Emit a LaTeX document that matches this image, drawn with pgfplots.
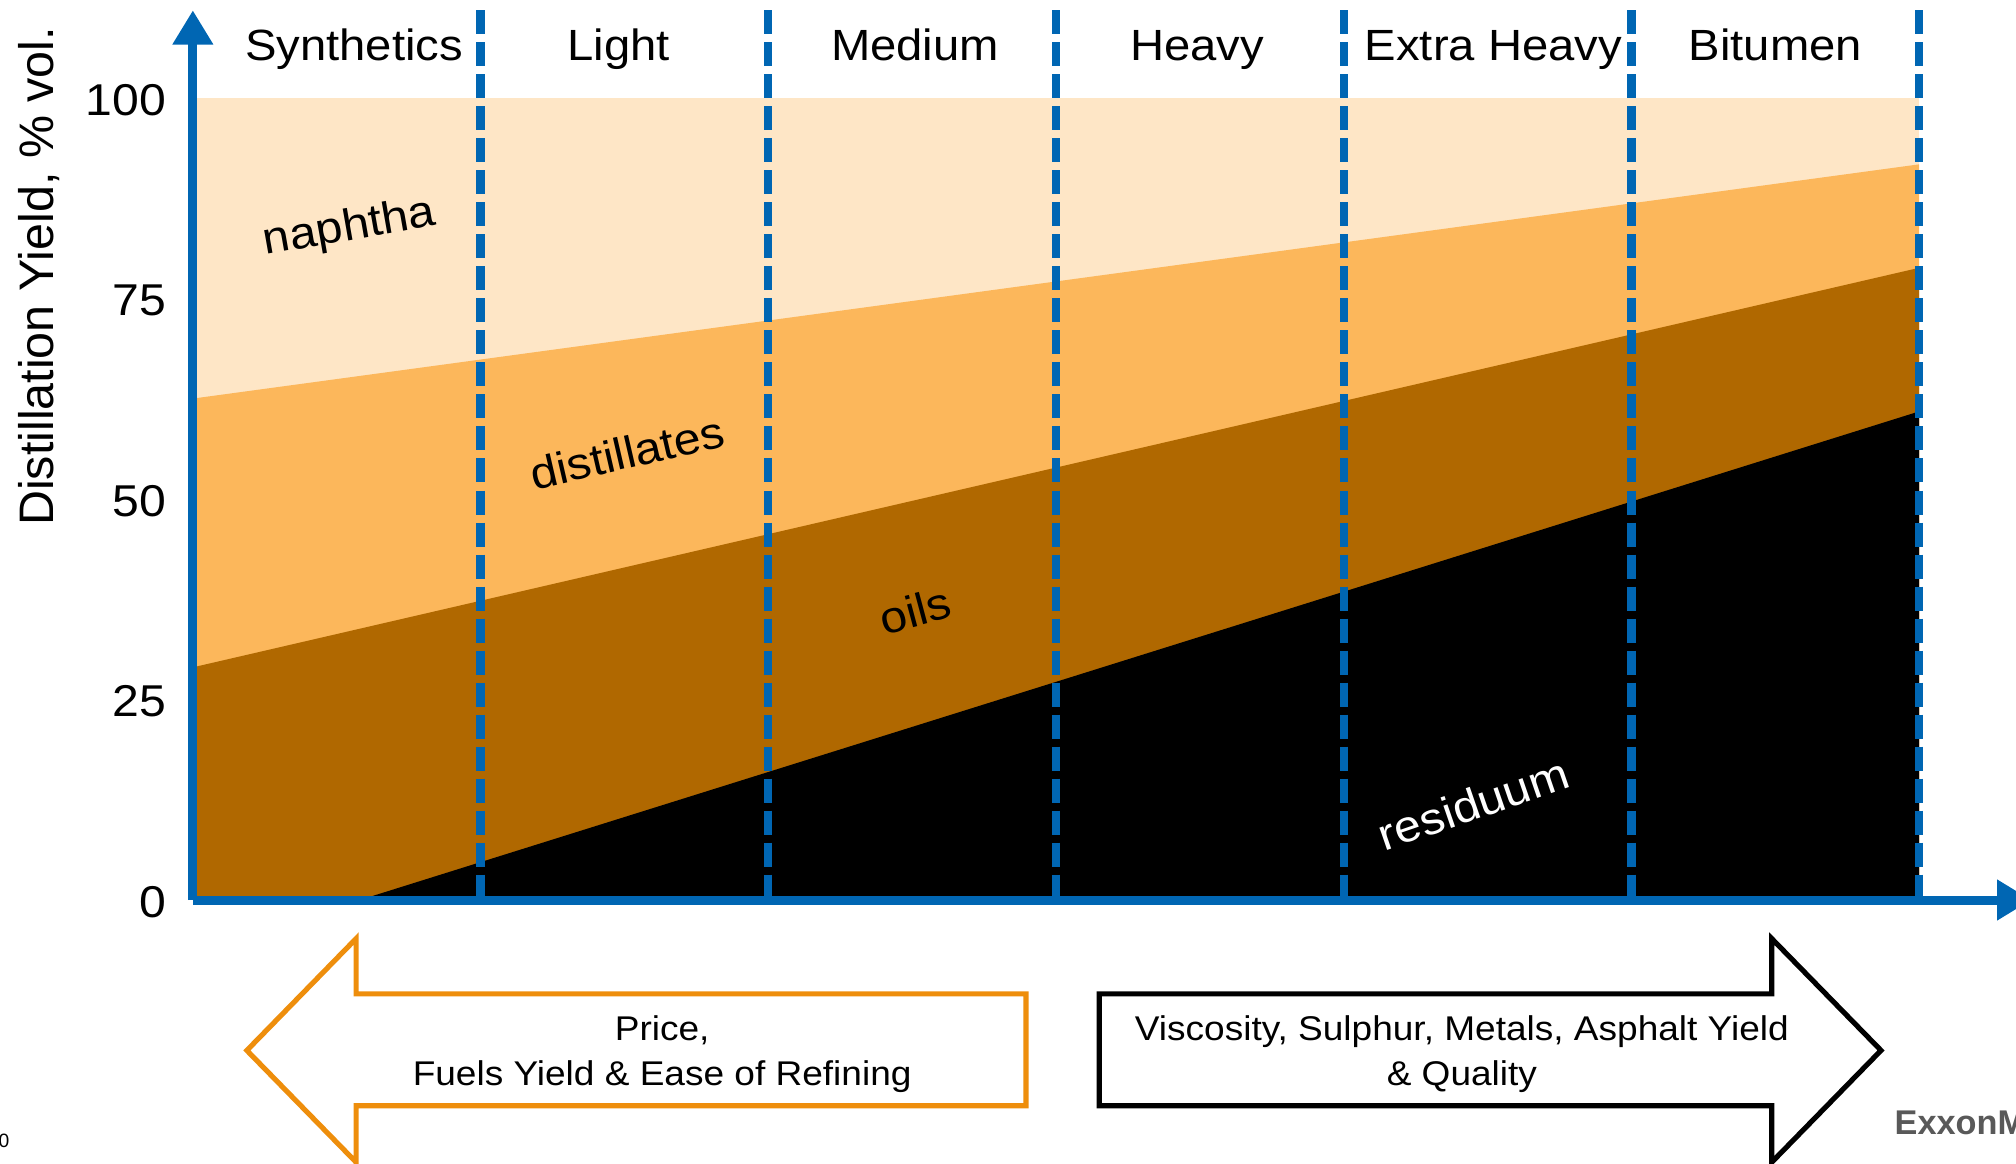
\documentclass[border=0pt]{standalone}
\usepackage{pgfplots}
\usepackage{pgfplotstable}
\pgfplotsset{compat=1.18}
\usetikzlibrary{arrows.meta}
\usepackage{fontspec}
\setmainfont{Liberation Sans}
\newfontfamily\wide{Liberation Sans}[FakeStretch=1.08]
\definecolor{axblue}{HTML}{0066B3}
\definecolor{naph}{HTML}{FEE6C6}
\definecolor{dist}{HTML}{FCB75B}
\definecolor{oil}{HTML}{B06800}
\definecolor{arrorange}{HTML}{EE8E0C}

\tikzset{
  cat/.style={font=\wide\fontsize{10.2}{12}\selectfont, anchor=base},
  frac/.style={font=\wide\fontsize{10.4}{12}\selectfont},
  sep/.style={axblue, line width=1.95pt, dash pattern=on 5.6pt off 1.87pt},
}

% boundary lines between the fractions (x = crude class index, y = % vol.)
\pgfplotstableread{
x    y
0    62.5
6    91.7
}\naphline
\pgfplotstableread{
x    y
0    29.0
6    78.8
}\distline
\pgfplotstableread{
x    y
0.58 0
6    60.9
}\oilline

\begin{document}
\begin{tikzpicture}[x=0.3pt,y=0.3pt]
\useasboundingbox (0,0) rectangle (1568,905);
\clip (0,0) rectangle (1568,905);
\begin{axis}[
  at={(45pt,61.5pt)}, anchor=south west,
  scale only axis, width=429pt, height=207.6pt,
  xmin=0, xmax=6.39, ymin=0, ymax=110.9,
  axis lines=left,
  axis line style={draw=axblue, line width=2.1pt, -{Triangle[width=9pt,length=8pt]}},
  xtick=\empty, ytick={0,25,50,75,100},
  major tick length=0pt,
  /pgf/number format/assume math mode=true,
  yticklabel style={font=\wide\fontsize{10.4}{12}\selectfont, inner sep=0pt, xshift=-6pt, yshift=-0.5pt},
  axis on top, clip=false,
]
\addplot[fill=naph, draw=none] coordinates {(0,100) (6,100)} \closedcycle;
\addplot[fill=dist, draw=none] table {\naphline} \closedcycle;
\addplot[fill=oil, draw=none] table {\distline} \closedcycle;
\addplot[fill=black, draw=none] table {\oilline} \closedcycle;

\addplot[sep] coordinates {(1,110.9) (1,0)};
\addplot[sep] coordinates {(2,110.9) (2,0)};
\addplot[sep] coordinates {(3,110.9) (3,0)};
\addplot[sep] coordinates {(4,110.9) (4,0)};
\addplot[sep] coordinates {(5,110.9) (5,0)};
\addplot[sep] coordinates {(6,110.9) (6,0)};

\node[cat] at (axis cs:0.56,104.6) {Synthetics};
\node[cat] at (axis cs:1.48,104.6) {Light};
\node[cat] at (axis cs:2.51,104.6) {Medium};
\node[cat] at (axis cs:3.49,104.6) {Heavy};
\node[cat] at (axis cs:4.52,104.6) {Extra Heavy};
\node[cat] at (axis cs:5.50,104.6) {Bitumen};

\node[frac, rotate=10] at (axis cs:0.545,83.7) {naphtha};
\node[frac, rotate=13] at (axis cs:1.51,55.8) {distillates};
\node[frac, rotate=15] at (axis cs:2.51,36.1) {oils};
\node[frac, rotate=19, text=white] at (axis cs:4.45,12.0) {residuum};
\end{axis}

\node[rotate=90, font=\fontsize{11.3}{12}\selectfont] at (30,690) {Distillation Yield, \% vol.};

% direction arrows below the chart
\draw[arrorange, line width=1.2pt, fill=white]
  (192,88) -- (277,175) -- (277,132) -- (798,132) -- (798,45) -- (277,45) -- (277,1) -- cycle;
\draw[black, line width=1.2pt, fill=white]
  (855,132) -- (1378,132) -- (1378,175) -- (1463,88) -- (1378,1) -- (1378,45) -- (855,45) -- cycle;
\begin{scope}[every node/.style={font=\wide\fontsize{8}{10}\selectfont, anchor=base}]
\node at (515,95.5) {Price,};
\node at (515,60.5) {Fuels Yield \& Ease of Refining};
\node at (1137,95.5) {Viscosity, Sulphur, Metals, Asphalt Yield};
\node at (1137,60.5) {\& Quality};
\end{scope}

\node[font=\fontsize{4.5}{5}\selectfont, anchor=east, inner sep=0pt] at (8,18) {10};
\node[font=\bfseries\fontsize{8}{10}\selectfont, text=black!65, anchor=west, inner sep=0pt] at (1473,32) {ExxonMobil};
\end{tikzpicture}
\end{document}
